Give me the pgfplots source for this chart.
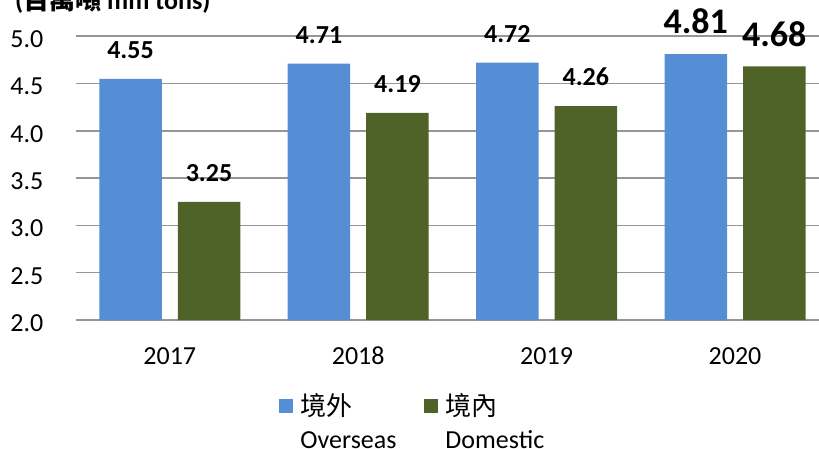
\documentclass[border=0pt]{standalone}
\usepackage{fontspec}
\setmainfont{Carlito}
\newfontfamily\cjk{Noto Sans CJK TC}
\usepackage{pgfplots}
\pgfplotsset{compat=1.18}

\definecolor{overseas}{RGB}{85,142,213}
\definecolor{domestic}{RGB}{79,98,40}
\definecolor{gridgray}{RGB}{150,150,150}

\begin{document}
\begin{tikzpicture}[x=1pt,y=1pt]
\useasboundingbox (0,0) rectangle (819,448);
% unit title, cut by the top edge as in the original
\node[anchor=base west, inner sep=0pt, font=\bfseries\fontsize{26}{31}\selectfont]
  at (15,438) {({\cjk 百萬噸} mm tons)};
\begin{axis}[
    at={(75.6pt,128pt)}, anchor=south west,
    scale only axis, width=753.6pt, height=283.8pt,
    ybar=16pt, bar width=62.5pt,
    xmin=-0.5, xmax=3.5, ymin=2, ymax=5,
    xtick=data, xticklabels={2017,2018,2019,2020},
    ytick={2,2.5,3,3.5,4,4.5,5},
    /pgf/number format/assume math mode=true,
    yticklabel style={/pgf/number format/fixed, /pgf/number format/fixed zerofill,
      /pgf/number format/precision=1,
      anchor=east, inner sep=0pt, xshift=-32pt, yshift=-3pt},
    xticklabel style={anchor=north, inner sep=0pt, yshift=-27pt},
    tick label style={font=\fontsize{26}{31}\selectfont},
    major tick length=0pt,
    axis line style={draw=none},
    ymajorgrids, grid style={gridgray, line width=1.5pt},
    visualization depends on={value \coordindex \as \idx},
    nodes near coords={\ifnum\idx=3 \fontsize{36}{40}\selectfont\fi
      \pgfmathprintnumber[fixed,fixed zerofill,precision=2]{\pgfplotspointmeta}},
    nodes near coords style={inner sep=0pt, yshift=20pt, text=black,
      font=\bfseries\fontsize{26}{31}\selectfont},
    legend columns=2,
    legend image code/.code={\fill[#1] (0pt,2pt) rectangle (14pt,16pt);},
    legend style={at={(0.2703,-0.2572)}, anchor=north west, draw=none, fill=none,
      inner sep=0pt, font=\fontsize{26}{30}\selectfont,
      cells={anchor=base west}, nodes={inner sep=0pt}, column sep=7pt,
      /tikz/every even column/.append style={column sep=28pt}},
  ]
\addplot[fill=overseas, draw=none] coordinates {(0,4.55) (1,4.71) (2,4.72) (3,4.81)};
\addlegendentry{\begin{tabular}[t]{@{}l@{}}{\cjk 境外}\\[3pt]Overseas\end{tabular}}
\addplot[fill=domestic, draw=none] coordinates {(0,3.25) (1,4.19) (2,4.26) (3,4.68)};
\addlegendentry{\begin{tabular}[t]{@{}l@{}}{\cjk 境內}\\[3pt]Domestic\end{tabular}}
\end{axis}
\end{tikzpicture}
\end{document}
